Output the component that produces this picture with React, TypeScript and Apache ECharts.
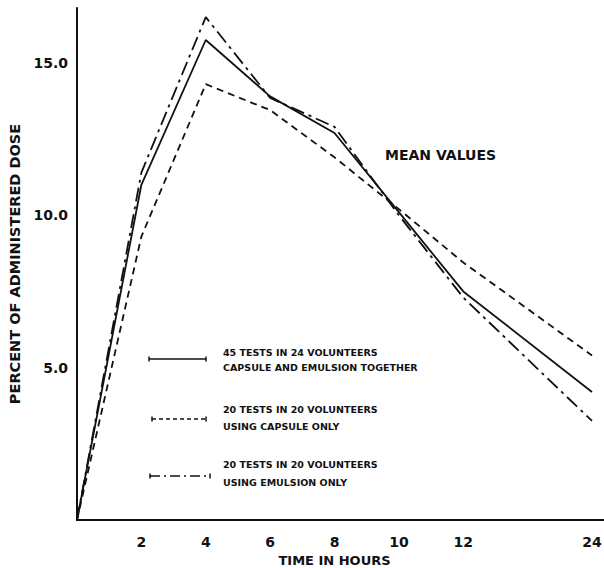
import React, { useEffect, useRef } from "react";
import * as echarts from "echarts";

// Time axis (broken scale: 24 h placed two steps after 12 h)
const hours = ["0", "2", "4", "6", "8", "10", "12", "", "24"];
// Percent of administered dose (mean values)
const combined = [0, 11.0, 15.75, 13.9, 12.7, 10.1, 7.5, null, 4.2];
const capsule = [0, 9.3, 14.3, 13.45, 11.9, 10.2, 8.45, null, 5.4];
const emulsion = [0, 11.4, 16.5, 13.85, 12.9, 10.0, 7.3, null, 3.25];
const yTicks = [5, 10, 15];

const seriesNames = ["combined", "capsule", "emulsion"];
const legendLines1 = ["45 TESTS IN 24 VOLUNTEERS", "CAPSULE AND EMULSION TOGETHER"];
const legendLines2 = ["20 TESTS IN 20 VOLUNTEERS", "USING CAPSULE ONLY"];
const legendLines3 = ["20 TESTS IN 20 VOLUNTEERS", "USING EMULSION ONLY"];
const noteText = "MEAN VALUES";
const xName = "TIME IN HOURS";
const yName = "PERCENT OF ADMINISTERED DOSE";

const FONT = "DejaVu Sans";
const INK = "#111";

const dashCapsule = [7, 5];
const dashEmulsion = [14, 5, 3, 5];

function legendItem(x1: number, x2: number, y: number, dash: number[] | null, lines: string[], ty1: number, ty2: number) {
  const elems: any[] = [
    {
      type: "line",
      shape: { x1, y1: y, x2, y2: y },
      style: { stroke: INK, lineWidth: 1.6, lineDash: dash || undefined },
    },
    { type: "line", shape: { x1, y1: y - 2.5, x2: x1, y2: y + 2.5 }, style: { stroke: INK, lineWidth: 1.5 } },
    { type: "line", shape: { x1: x2, y1: y - 2.5, x2, y2: y + 2.5 }, style: { stroke: INK, lineWidth: 1.5 } },
    {
      type: "text",
      x: 223,
      y: ty1,
      style: { text: lines[0], font: `bold 9.5px "${FONT}"`, fill: INK, textVerticalAlign: "middle" },
    },
    {
      type: "text",
      x: 223,
      y: ty2,
      style: { text: lines[1], font: `bold 9.5px "${FONT}"`, fill: INK, textVerticalAlign: "middle" },
    },
  ];
  return elems;
}

export default function App() {
  const ref = useRef<HTMLDivElement>(null);
  useEffect(() => {
    if (!ref.current) return;
    const chart = echarts.init(ref.current, null, { renderer: "svg" });
    const lineBase = { type: "line", showSymbol: false, connectNulls: true, silent: true };
    chart.setOption({
      animation: false,
      backgroundColor: "#fff",
      grid: { left: 77, right: 12, top: 8, bottom: 48, containLabel: false, outerBoundsMode: "none" },
      xAxis: {
        type: "category",
        data: hours,
        boundaryGap: false,
        name: xName,
        nameLocation: "middle",
        nameGap: 26,
        nameTextStyle: { fontFamily: FONT, fontWeight: "bold", fontSize: 13, color: INK },
        axisLine: { lineStyle: { color: INK, width: 2 } },
        axisTick: { show: false },
        axisLabel: {
          interval: 0,
          margin: 15,
          fontFamily: FONT,
          fontWeight: "bold",
          fontSize: 14,
          color: INK,
          formatter: (v: string) => (v === "0" ? "" : v),
        },
        splitLine: { show: false },
      },
      yAxis: {
        type: "value",
        min: 0,
        max: 16.8,
        interval: 5,
        name: yName,
        nameLocation: "middle",
        nameGap: 49,
        nameRotate: 90,
        nameTextStyle: { fontFamily: FONT, fontWeight: "bold", fontSize: 14.5, color: INK },
        axisLine: { show: true, lineStyle: { color: INK, width: 2 } },
        axisTick: { show: false },
        splitLine: { show: false },
        axisLabel: {
          margin: 9,
          fontFamily: FONT,
          fontWeight: "bold",
          fontSize: 14,
          color: INK,
          formatter: (v: number) => (yTicks.includes(v) ? v.toFixed(1) : ""),
        },
      },
      series: [
        { ...lineBase, name: seriesNames[0], data: combined, lineStyle: { color: INK, width: 1.8, type: "solid" } },
        { ...lineBase, name: seriesNames[1], data: capsule, lineStyle: { color: INK, width: 1.8, type: dashCapsule } },
        { ...lineBase, name: seriesNames[2], data: emulsion, lineStyle: { color: INK, width: 1.8, type: dashEmulsion } },
      ],
      graphic: [
        { type: "line", shape: { x1: 591, y1: 520, x2: 604, y2: 520 }, style: { stroke: INK, lineWidth: 2 } },
        {
          type: "text",
          x: 385,
          y: 155,
          style: { text: noteText, font: `bold 14px "${FONT}"`, fill: INK, textVerticalAlign: "middle" },
        },
        ...legendItem(149, 206, 359, null, legendLines1, 352, 367),
        ...legendItem(152, 206, 419, [4, 3], legendLines2, 409, 426),
        ...legendItem(150, 210, 476, [10, 4, 2, 4], legendLines3, 464, 482),
      ],
    });
    return () => chart.dispose();
  }, []);
  return (
    <div
      ref={ref}
      style={{ position: "fixed", left: 0, top: 0, width: 604, height: 568 }}
    />
  );
}
